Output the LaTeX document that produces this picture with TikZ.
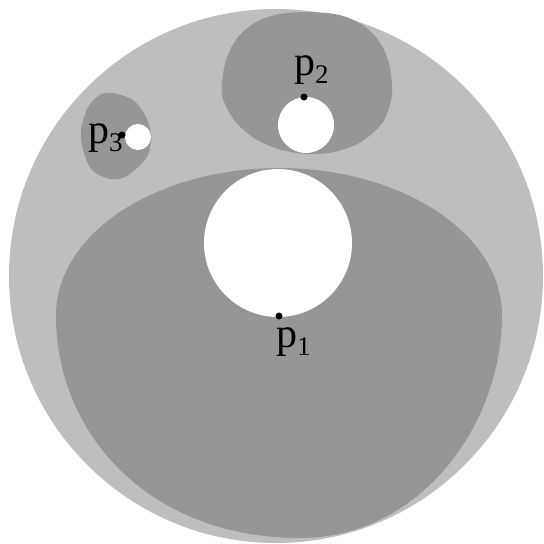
\documentclass[tikz,border=0pt]{standalone}
\usepackage{fontspec}
\setmainfont{Liberation Serif}
\definecolor{lightg}{RGB}{190,190,190}
\definecolor{darkg}{RGB}{150,150,150}
\tikzset{
  lbl/.style={inner sep=0pt, anchor=base west, font=\fontsize{42}{44}\selectfont},
  dotp/.style={fill=black}
}
\newcommand{\sbs}[1]{\raisebox{-8pt}{\fontsize{27}{27}\selectfont #1}}
\begin{document}
\begin{tikzpicture}[x=1pt,y=-1pt]
\useasboundingbox (0,0) rectangle (544,544);
\fill[white] (0,0) rectangle (544,544);
% outer disc
\fill[lightg] (276,276) circle (267);
% big dark region: elliptic top, egg-shaped bottom
\fill[darkg] plot[domain=180:360,samples=73] ({279+223*cos(\x)},{315+147*sin(\x)})
  .. controls (502,425) and (420,538) .. (300,538)
  .. controls (150,538) and (56,435) .. (56,315) -- cycle;
% top dark region
\fill[darkg] plot[smooth cycle] coordinates {
 (307,12) (335.8,14.2) (355.8,21) (371.4,32.1) (382.7,47.3) (389.7,66.8) (392,95)
 (383,122) (361,142) (334,152) (306,154) (278,149) (254,138) (234,120) (222,95)
 (224.3,66.8) (231.3,47.3) (242.6,32.1) (258.2,21) (278.2,14.2)};
% left small dark region
\fill[darkg] plot[smooth cycle] coordinates {
 (113,93) (133,100) (145,115) (151,135) (147,157) (127,176) (110,179) (92,170)
 (83,150) (81,130) (88,107) (100,95)};
% white holes
\fill[white] (278,243) circle (74);
\fill[white] (306,125) circle (28);
\fill[white] (138,137) circle (13);
% points
\fill[dotp] (279,316) circle (3.5) coordinate (d1);
\fill[dotp] (304,97) circle (3.5) coordinate (d2);
\fill[dotp] (122,135) circle (3.5) coordinate (d3);
% labels
\node[lbl] (p1) at (276,347) {p\sbs{1}};
\node[lbl] (p2) at (294,75) {p\sbs{2}};
\node[lbl] (p3) at (88,143) {p\sbs{3}};
\end{tikzpicture}
\end{document}
